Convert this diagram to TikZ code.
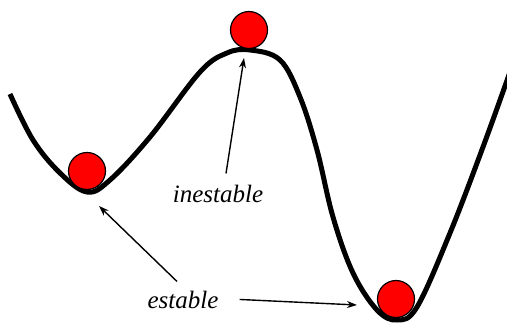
\documentclass[tikz,border=0pt]{standalone}
\usepackage{fontspec}
\setmainfont{Liberation Serif}
\usetikzlibrary{arrows.meta}

\begin{document}
\begin{tikzpicture}[x=1pt, y=-1pt,
        ball/.style={circle, draw=black, line width=1.2pt, fill=red, minimum size=37pt, inner sep=0pt},
        word/.style={font=\fontsize{25}{30}\selectfont\itshape, anchor=base, inner sep=3pt},
        pointer/.style={line width=1.4pt, -{Stealth[length=10pt, width=7pt]}}]
    \useasboundingbox (0,0) rectangle (507,322);
    % potential curve
    \draw[line width=5pt, line join=round] plot[smooth, tension=0.6] coordinates {
        (10,94) (33,140) (60,173) (87,192) (110,180) (150,137) (200,72)
        (227,53) (250,50) (280,60) (300,97) (317,150) (333,217) (353,273)
        (377,310) (397,320) (417,307) (450,233) (483,147) (510,72)};
    % balls
    \node[ball] (left) at (87,171) {};
    \node[ball] (top) at (249,30) {};
    \node[ball] (bottom) at (396,299) {};
    % labels
    \node[word] (inestable) at (218,202) {inestable};
    \node[word] (estable) at (183,308) {estable};
    \coordinate (top-tip) at (244,58);
    \coordinate (left-tip) at (99,206);
    \coordinate (bottom-tip) at (357,305);
    \draw[pointer] ([xshift=8pt, yshift=8pt]inestable.north) -- (top-tip);
    \draw[pointer] ([xshift=-6pt, yshift=6pt]estable.north) -- (left-tip);
    \draw[pointer] ([xshift=18pt]estable.east) -- (bottom-tip);
\end{tikzpicture}
\end{document}
